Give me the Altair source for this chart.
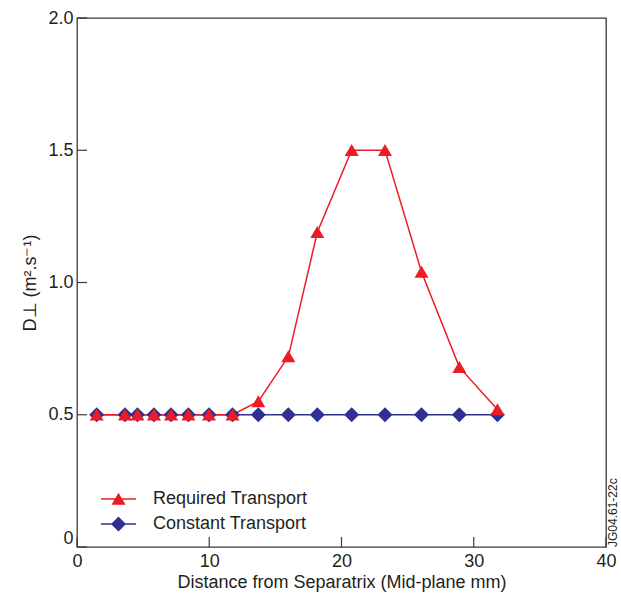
import altair as alt
import pandas as pd

# ---- data ----
distance = [1.49, 3.63, 4.57, 5.82, 7.11, 8.42, 9.98, 11.76,
            13.71, 15.98, 18.17, 20.77, 23.29, 26.05, 28.91, 31.79]
required = [0.50, 0.50, 0.50, 0.50, 0.50, 0.50, 0.50, 0.50,
            0.55, 0.72, 1.19, 1.50, 1.50, 1.04, 0.68, 0.52]
constant = [0.50, 0.50, 0.50, 0.50, 0.50, 0.50, 0.50, 0.50,
            0.50, 0.50, 0.50, 0.50, 0.50, 0.50, 0.50, 0.50]
series_names = ["Required Transport", "Constant Transport"]
series_colors = ["#ED1C24", "#2E3192"]
x_ticks = [0, 10, 20, 30, 40]
y_ticks = [0, 0.5, 1.0, 1.5, 2.0]
x_title = "Distance from Separatrix (Mid-plane mm)"
y_title = "D\u22a5 (m\u00b2.s\u207b\u00b9)"
tag = ["JG04.61-22c"]

# marker shapes (unit paths) and legend symbols (marker + line segment)
tri_path = "M0,-0.62L0.7,0.58L-0.7,0.58Z"
dia_path = "M0,-0.75L0.75,0L0,0.75L-0.75,0Z"
seg = "M-1.75,-0.075H1.75V0.075H-1.75Z"
marker_paths = [tri_path, dia_path]
legend_paths = [seg + tri_path, seg + dia_path]

rows = []
for d, v in zip(distance, constant):
    rows.append({"x": d, "y": v, "series": series_names[1]})
for d, v in zip(distance, required):
    rows.append({"x": d, "y": v, "series": series_names[0]})
df = pd.DataFrame(rows)

FONT = "Liberation Sans"
TXT = "#231F20"
FRAME = "#3a3a3a"

x_scale = alt.Scale(domain=[0, 40], nice=False, zero=False)
y_scale = alt.Scale(domain=[0, 2], nice=False, zero=False)
x_axis = alt.Axis(values=x_ticks, format="d", ticks=False, domain=False, grid=False,
                  labelFlush=False, labelPadding=5, titlePadding=3)
y_axis = alt.Axis(values=y_ticks, ticks=False, domain=False, grid=False,
                  labelFlush=False,
                  labelExpr="datum.value == 0 ? '0' : format(datum.value, '.1f')",
                  labelBaseline={"condition": {"test": "datum.value == 0", "value": "bottom"},
                                 "value": "middle"},
                  labelPadding=4, titlePadding=8)

X = alt.X("x:Q", scale=x_scale, axis=x_axis, title=x_title)
Y = alt.Y("y:Q", scale=y_scale, axis=y_axis, title=y_title)

color_scale = alt.Scale(domain=series_names, range=series_colors)
shape_scale = alt.Scale(domain=series_names, range=legend_paths)
leg = alt.Legend(title=None, orient="none", legendX=30.5, legendY=470,
                 symbolSize=400, labelFontSize=18,
                 labelOffset=23.5, rowPadding=5, padding=0,
                 labelFont=FONT, labelColor=TXT)

# constant first so the required series is drawn on top
layers = []
for name, col in zip(reversed(series_names), reversed(series_colors)):
    layers.append(
        alt.Chart(df).transform_filter(alt.datum.series == name)
        .mark_line(strokeWidth=1.5, color=col)
        .encode(x=X, y=Y)
    )
for name, col, path in zip(reversed(series_names), reversed(series_colors), reversed(marker_paths)):
    layers.append(
        alt.Chart(df).transform_filter(alt.datum.series == name)
        .mark_point(filled=True, size=400, opacity=1, color=col, shape=path, strokeWidth=0)
        .encode(x=X, y=Y)
    )

# legend-only layer (no rows drawn; scales have explicit domains)
legend_layer = alt.Chart(df).transform_filter("false").mark_point(
    filled=True, size=400, opacity=1
).encode(
    x=X, y=Y,
    fill=alt.Fill("series:N", scale=color_scale, legend=leg),
    shape=alt.Shape("series:N", scale=shape_scale, legend=leg),
)

xt = pd.DataFrame({"x": x_ticks})
yt = pd.DataFrame({"y": y_ticks})
x_tick_marks = alt.Chart(xt).mark_rule(color=FRAME, strokeWidth=1.2).encode(
    x=X, y=alt.value(529), y2=alt.value(519))
y_tick_marks = alt.Chart(yt).mark_rule(color=FRAME, strokeWidth=1.2).encode(
    y=Y, x=alt.value(0), x2=alt.value(10))

tag_text = alt.Chart(pd.DataFrame({"t": tag})).mark_text(
    angle=270, align="left", baseline="middle", fontSize=12, font=FONT, color=TXT
).encode(text="t:N", x=alt.value(536), y=alt.value(529))

chart = alt.layer(*layers, legend_layer, x_tick_marks, y_tick_marks, tag_text).properties(
    width=529, height=529,
    background="white",
    autosize=alt.AutoSizeParams(type="none"),
    padding={"left": 77, "top": 18, "right": 15, "bottom": 59},
).configure_view(
    stroke=FRAME, strokeWidth=1.3
).configure_axis(
    labelFont=FONT, labelFontSize=18, labelColor=TXT,
    titleFont=FONT, titleFontSize=18, titleColor=TXT, titleFontWeight="normal",
)

chart.save("out.html", embed_options={"renderer": "svg", "actions": False})
